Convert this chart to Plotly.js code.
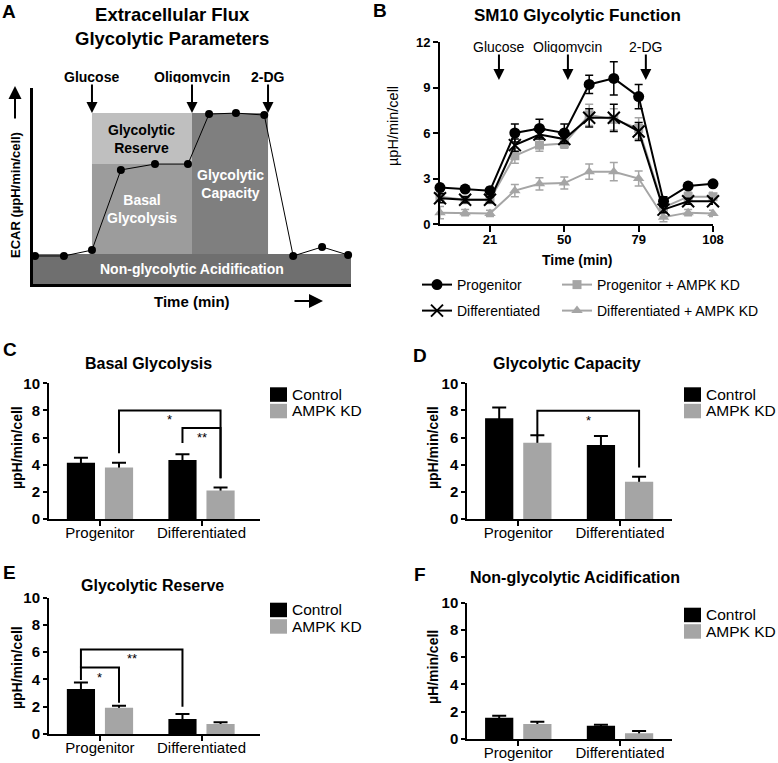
<!DOCTYPE html>
<html><head><meta charset="utf-8">
<script src="https://cdn.plot.ly/plotly-3.0.1.min.js"></script>
<style>html,body{margin:0;padding:0;background:#fff;}#chart{width:778px;height:763px;}</style>
</head><body><div id="chart"></div>
<script>
// ---------- Panel A : schematic ----------
const schemeTime = [0.07,1.07,2.04,3.04,4.22,5.36,6.09,7.02,8.0,9.0,10.0,10.9];
const schemeEcar = [1.43,1.43,1.73,5.82,6.12,6.12,8.67,8.72,8.62,1.43,1.89,1.48];
const injectionNames = ['Glucose','Oligomycin','2-DG'];
const schemeInjections = [2.04,5.5,8.13];
const schemeLevels = [1.53,6.12,8.72]; // non-glycolytic, basal, capacity

// ---------- Panel B : time course ----------
const timeMin = [1.5,11.3,21,30.7,40.3,50,59.7,69.3,79,88.7,98.3,108];
const timeTicks = [21,50,79,108];
const injectionTimesB = [24.5,51.4,81.8];
const progenitor = [2.4,2.3,2.2,6.0,6.3,6.0,9.2,9.6,8.4,1.5,2.5,2.65];
const progenitorErr = [0.2,0.2,0.2,0.6,0.6,0.6,0.6,1.1,0.8,0.3,0.2,0.2];
const progenitorKD = [1.8,1.6,1.6,4.5,5.2,5.3,7.2,6.9,6.3,1.1,1.8,1.8];
const progenitorKDErr = [0.2,0.2,0.2,0.5,0.4,0.3,0.7,0.7,0.7,0.6,0.3,0.3];
const differentiated = [1.7,1.6,1.6,5.2,5.9,5.6,7.0,7.0,6.1,0.95,1.5,1.5];
const differentiatedErr = [0.3,0.2,0.2,0.4,0.3,0.3,0.6,0.9,0.6,0.2,0.2,0.2];
const differentiatedKD = [0.75,0.75,0.7,2.2,2.65,2.7,3.45,3.45,3.0,0.45,0.75,0.7];
const differentiatedKDErr = [0.4,0.2,0.2,0.4,0.4,0.4,0.5,0.6,0.5,0.3,0.2,0.2];

// ---------- Panels C-F : bars ----------
const groups = ['Progenitor','Differentiated'];
const basalCtrl = [4.15,4.35], basalCtrlErr = [0.37,0.42];
const basalKD = [3.8,2.1],     basalKDErr = [0.35,0.22];
const capCtrl = [7.42,5.45],   capCtrlErr = [0.8,0.67];
const capKD = [5.62,2.75],     capKDErr = [0.55,0.37];
const resCtrl = [3.3,1.1],     resCtrlErr = [0.47,0.37];
const resKD = [1.93,0.73],     resKDErr = [0.15,0.13];
const nonCtrl = [1.56,0.98],   nonCtrlErr = [0.15,0.07];
const nonKD = [1.1,0.42],      nonKDErr = [0.17,0.17];
// significance: [fromGroup, fromSeries(0=Control,1=KD), toGroup, toSeries, top, leftLegEnd, rightLegEnd, label]
const basalSig = [[0,1,1,1,8.0,4.85,3.0,'*'],[1,0,1,1,6.7,5.6,3.0,'**']];
const capSig = [[0,1,1,1,7.98,6.1,3.8,'*']];
const resSig = [[0,0,1,0,6.2,4.87,2.0,'**'],[0,0,0,1,4.87,3.96,2.3,'*']];

const W=778,H=763;
const px=v=>v/W, py=v=>1-v/H;
const FONT='Liberation Sans, Arial, Helvetica, sans-serif';
const GRAY='#a5a5a5';
const BARGAP=0.25, BARGROUPGAP=0.26;

const traces=[];
const shapes=[];
const annotations=[];

// ---- A ----
const boxColors=['#6f6f6f','#9c9c9c','#bfbfbf','#7f7f7f'];
shapes.push({type:'rect',xref:'x',yref:'y',x0:0,x1:11,y0:0,y1:schemeLevels[0],fillcolor:boxColors[0],line:{width:0},layer:'below'});
shapes.push({type:'rect',xref:'x',yref:'y',x0:schemeInjections[0],x1:schemeInjections[1],y0:schemeLevels[0],y1:schemeLevels[1],fillcolor:boxColors[1],line:{width:0},layer:'below'});
shapes.push({type:'rect',xref:'x',yref:'y',x0:schemeInjections[0],x1:schemeInjections[1],y0:schemeLevels[1],y1:schemeLevels[2],fillcolor:boxColors[2],line:{width:0},layer:'below'});
shapes.push({type:'rect',xref:'x',yref:'y',x0:schemeInjections[1],x1:schemeInjections[2],y0:schemeLevels[0],y1:schemeLevels[2],fillcolor:boxColors[3],line:{width:0},layer:'below'});
traces.push({type:'scatter',x:schemeTime,y:schemeEcar,xaxis:'x',yaxis:'y',mode:'lines+markers',
  line:{color:'#000',width:1},marker:{color:'#000',size:8},showlegend:false,cliponaxis:false,hoverinfo:'skip'});
const midInj=(schemeInjections[0]+schemeInjections[1])/2;
const C={xanchor:'center',yanchor:'middle'};
annotations.push(Object.assign({xref:'x',yref:'y',x:midInj,y:(schemeLevels[1]+schemeLevels[2])/2,text:'Glycolytic<br>Reserve',showarrow:false,font:{size:14,weight:700,color:'#000'}},C));
annotations.push(Object.assign({xref:'x',yref:'y',x:midInj,y:(schemeLevels[0]+schemeLevels[1])/2,text:'Basal<br>Glycolysis',showarrow:false,font:{size:14,weight:700,color:'#fff'}},C));
annotations.push(Object.assign({xref:'x',yref:'y',x:(schemeInjections[1]+schemeInjections[2])/2,y:(schemeLevels[0]+schemeLevels[2])/2,text:'Glycolytic<br>Capacity',showarrow:false,font:{size:14,weight:700,color:'#fff'}},C));
annotations.push(Object.assign({xref:'x',yref:'y',x:schemeInjections[1],y:schemeLevels[0]/2,text:'Non-glycolytic Acidification',showarrow:false,font:{size:14,weight:700,color:'#fff'}},C));
injectionNames.forEach((n,i)=>{
  annotations.push({xref:'x',yref:'y',x:schemeInjections[i],y:schemeLevels[2],text:n,showarrow:true,ax:0,ay:-36,
    arrowhead:2,arrowsize:1.1,arrowwidth:2,arrowcolor:'#000',standoff:0,height:12,font:{size:14,weight:700}});
});
annotations.push({xref:'paper',yref:'paper',x:px(15),y:py(86),ax:0,ay:34,text:'',showarrow:true,arrowhead:2,arrowsize:1.3,arrowwidth:2,arrowcolor:'#000'});
annotations.push({xref:'paper',yref:'paper',x:px(323),y:py(301),ax:-30,ay:0,text:'',showarrow:true,arrowhead:2,arrowsize:1.4,arrowwidth:2,arrowcolor:'#000'});

// ---- B ----
const bSeries=[
  {name:'Differentiated + AMPK KD',y:differentiatedKD,e:differentiatedKDErr,color:GRAY,symbol:'triangle-up',size:10,legend:'legend2',rank:2,lw:170},
  {name:'Progenitor + AMPK KD',y:progenitorKD,e:progenitorKDErr,color:GRAY,symbol:'square',size:9,legend:'legend',rank:2,lw:170},
  {name:'Differentiated',y:differentiated,e:differentiatedErr,color:'#000',symbol:'x-thin',size:12,legend:'legend2',rank:1,lw:95},
  {name:'Progenitor',y:progenitor,e:progenitorErr,color:'#000',symbol:'circle',size:11,legend:'legend',rank:1,lw:95}
];
bSeries.forEach(s=>{
  traces.push({type:'scatter',mode:'lines+markers',x:timeMin,y:s.y,xaxis:'x2',yaxis:'y2',name:s.name,
    legend:s.legend,legendrank:s.rank,legendwidth:s.lw,line:{color:s.color,width:2},
    marker:{symbol:s.symbol,size:s.size,color:s.color,line:{color:s.color,width:s.symbol==='x-thin'?2:0}},
    error_y:{type:'data',array:s.e,color:s.color,thickness:1.5,width:4},cliponaxis:false,hoverinfo:'skip'});
});
injectionNames.forEach((n,i)=>{
  annotations.push({xref:'x2',yref:'paper',x:injectionTimesB[i],y:py(80),text:n,showarrow:true,ax:0,ay:-33,
    arrowhead:2,arrowsize:1.1,arrowwidth:2,arrowcolor:'#000',standoff:0,height:12,font:{size:14}});
});

// ---- Bars ----
function barPanel(n,ctrl,ctrlErr,kd,kdErr){
  const mk=(vals,errs,grp,color,real)=>({type:'bar',x:groups,y:vals,xaxis:'x'+n,yaxis:'y'+n,offsetgroup:grp,
    marker:{color:real?color:'rgba(0,0,0,0)',line:{width:0}},
    error_y:real?{visible:false}:{type:'data',symmetric:false,array:errs,arrayminus:vals,color:'#000',thickness:2,width:7},
    showlegend:false,hoverinfo:'skip'});
  traces.push(mk(ctrl,ctrlErr,'c','#000',false),mk(kd,kdErr,'k',GRAY,false),mk(ctrl,ctrlErr,'c','#000',true),mk(kd,kdErr,'k',GRAY,true));
}
barPanel(3,basalCtrl,basalCtrlErr,basalKD,basalKDErr);
barPanel(4,capCtrl,capCtrlErr,capKD,capKDErr);
barPanel(5,resCtrl,resCtrlErr,resKD,resKDErr);
barPanel(6,nonCtrl,nonCtrlErr,nonKD,nonKDErr);

function brackets(sig,n){
  const off=(1-BARGAP)/4;
  sig.forEach(([g1,s1,g2,s2,top,lb,rb,label])=>{
    const x1=g1+(s1?off:-off), x2=g2+(s2?off:-off);
    shapes.push({type:'path',xref:'x'+n,yref:'y'+n,path:`M${x1},${lb} L${x1},${top} L${x2},${top} L${x2},${rb}`,line:{color:'#000',width:2}});
    annotations.push({xref:'x'+n,yref:'y'+n,x:(x1+x2)/2,y:top,xanchor:'center',yanchor:'top',text:label,showarrow:false,font:{size:13}});
  });
}
brackets(basalSig,3); brackets(capSig,4); brackets(resSig,5);

function barLegend(x,yTop){
  shapes.push({type:'rect',xref:'paper',yref:'paper',x0:px(x),x1:px(x+17),y0:py(yTop+14.5),y1:py(yTop),fillcolor:'#000',line:{width:0}});
  shapes.push({type:'rect',xref:'paper',yref:'paper',x0:px(x),x1:px(x+17),y0:py(yTop+31),y1:py(yTop+16.5),fillcolor:GRAY,line:{width:0}});
  annotations.push({xref:'paper',yref:'paper',x:px(x+20),y:py(yTop+7),xanchor:'left',yanchor:'middle',text:'Control',showarrow:false,font:{size:15.5}});
  annotations.push({xref:'paper',yref:'paper',x:px(x+20),y:py(yTop+23.5),xanchor:'left',yanchor:'middle',text:'AMPK KD',showarrow:false,font:{size:15.5}});
}
barLegend(270,387.3); barLegend(684,387.3); barLegend(270,602.7); barLegend(684,607.7);

// titles, letters, axis titles
const T=(x,y,text,size,bold,extra)=>annotations.push(Object.assign({xref:'paper',yref:'paper',x:px(x),y:py(y),xanchor:'center',yanchor:'middle',
  text,showarrow:false,font:{size,weight:bold?700:400}},extra||{}));
T(9,11,'A',19,true); T(380,10,'B',19,true); T(10,349,'C',19,true); T(420,355,'D',19,true); T(9,572,'E',19,true); T(420,574,'F',19,true);
T(172,27,'Extracellular Flux<br>Glycolytic Parameters',18.5,true);
T(15,195,'ECAR (µpH/min/cell)',13,true,{textangle:-90});
T(192,301,'Time (min)',15,true);
T(577,15,'SM10 Glycolytic Function',17,true);
T(148,363,'Basal Glycolysis',16,true); T(567,363,'Glycolytic Capacity',16,true);
T(152,585,'Glycolytic Reserve',16,true); T(575,577,'Non-glycolytic Acidification',16,true);
T(393,126,'µpH/min/cell',14.5,false,{textangle:-90});
T(577,260,'Time (min)',14,true);
T(17,448,'µpH/min/cell',14,true,{textangle:-90}); T(433,448,'µpH/min/cell',14,true,{textangle:-90});
T(17,668,'µpH/min/cell',14,true,{textangle:-90}); T(433,667,'µH/min/cell',14,true,{textangle:-90});

const noAxis={showgrid:false,zeroline:false,fixedrange:true};
function barX(d0,d1,range,anchor){return Object.assign({domain:[px(d0),px(d1)],range,type:'category',categoryorder:'array',categoryarray:groups,anchor,
  showline:true,linewidth:2,linecolor:'#000',ticks:'outside',ticklen:5,tickwidth:2,tickcolor:'#000',tickfont:{size:15},ticklabelstandoff:-6},noAxis);}
function barY(top,bottom,anchor){return Object.assign({domain:[py(bottom),py(top)],range:[0,10],dtick:2,tick0:0,anchor,
  showline:true,linewidth:2,linecolor:'#000',ticks:'outside',ticklen:4,tickwidth:2,tickcolor:'#000',tickfont:{size:15,weight:700}},noAxis);}

const legendBase={orientation:'h',xanchor:'left',yanchor:'middle',entrywidthmode:'pixels',
  font:{size:14},bgcolor:'rgba(0,0,0,0)',borderwidth:0,traceorder:'normal',itemclick:false,itemdoubleclick:false};

const layout={
  width:W,height:H,margin:{l:0,r:0,t:0,b:0},paper_bgcolor:'#fff',plot_bgcolor:'rgba(0,0,0,0)',
  font:{family:FONT,color:'#000',size:14},
  barmode:'group',bargap:BARGAP,bargroupgap:BARGROUPGAP,showlegend:true,
  xaxis:Object.assign({domain:[px(33),px(351)],range:[0,11],anchor:'y',showline:true,linewidth:3,linecolor:'#000',showticklabels:false,ticks:''},noAxis),
  yaxis:Object.assign({domain:[py(284),py(88)],range:[0,10],anchor:'x',showline:true,linewidth:3,linecolor:'#000',showticklabels:false,ticks:''},noAxis),
  xaxis2:Object.assign({domain:[px(440),px(713)],range:[1.5,108],anchor:'y2',tickvals:timeTicks,showline:true,linewidth:2,linecolor:'#000',
    ticks:'outside',ticklen:6,tickwidth:2,tickcolor:'#000',tickfont:{size:13,weight:700},ticklabelstandoff:-4},noAxis),
  yaxis2:Object.assign({domain:[py(224),py(42)],range:[0,12],anchor:'x2',tickvals:[0,3,6,9,12],showline:true,linewidth:2,linecolor:'#000',
    ticks:'outside',ticklen:5,tickwidth:2,tickcolor:'#000',tickfont:{size:13,weight:700}},noAxis),
  xaxis3:barX(49,260,[-0.502,1.576],'y3'), yaxis3:barY(383.3,519,'x3'),
  xaxis4:barX(467.3,671.7,[-0.501,1.508],'y4'), yaxis4:barY(383.3,519,'x4'),
  xaxis5:barX(49,260,[-0.502,1.576],'y5'), yaxis5:barY(597.7,734,'x5'),
  xaxis6:barX(467.3,671.7,[-0.501,1.508],'y6'), yaxis6:barY(602.7,739,'x6'),
  legend:Object.assign({x:px(417),y:py(285)},legendBase),
  legend2:Object.assign({x:px(417),y:py(311)},legendBase),
  shapes,annotations
};
Plotly.newPlot('chart',traces,layout,{staticPlot:true,displayModeBar:false});
</script></body></html>
